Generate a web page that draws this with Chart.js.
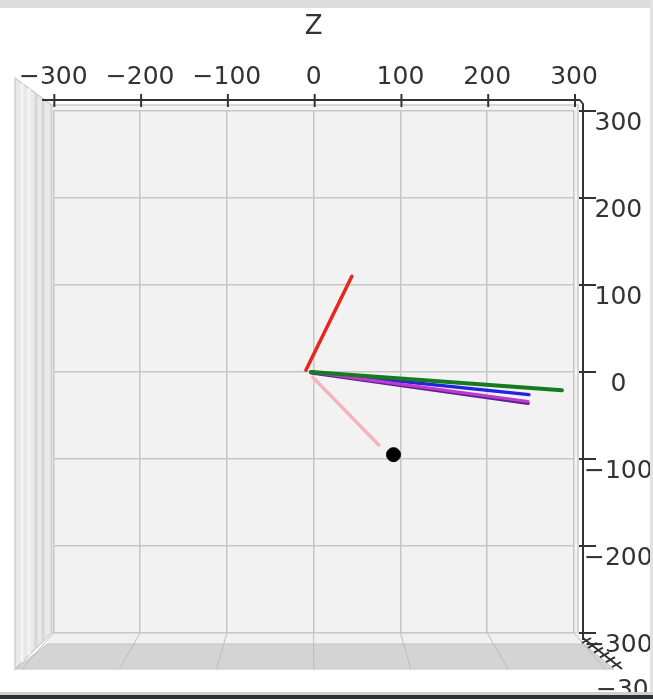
<!DOCTYPE html>
<html>
<head>
<meta charset="utf-8">
<script src="https://cdn.jsdelivr.net/npm/chart.js@4/dist/chart.umd.min.js"></script>
<style>
  body { margin: 0; background: #fff; }
  canvas { display: block; }
</style>
</head>
<body>
<canvas id="myChart" width="653" height="699"></canvas>
<script>
/*=============== DATA ===============*/

// tick values shared by both axes
const tickValues = [-300, -200, -100, 0, 100, 200, 300];

// line segments, [start, end]
const redX = [-9, 44];
const redY = [2, 110];
const pinkX = [-1, 75];
const pinkY = [-6, -84];
const greenX = [-3, 286];
const greenY = [0, -21];
const blueX = [-3, 248];
const blueY = [0, -26];
const magentaX = [-3, 247];
const magentaY = [0, -34];
const purpleX = [-3, 247];
const purpleY = [-1, -36];

// single point
const dotX = [92];
const dotY = [-95];

const toPoints = (xs, ys) => xs.map((x, i) => ({ x: x, y: ys[i] }));
const minus = (v) => (v < 0 ? "\u2212" + Math.abs(v) : String(v));

const lineSet = (xs, ys, color, width) => ({
  data: toPoints(xs, ys),
  showLine: true,
  borderColor: color,
  borderWidth: width,
  pointRadius: 0,
  borderCapStyle: "round",
});

/*=============== 3D BOX PLUGIN ===============*/
const boxPlugin = {
  id: "box3d",
  beforeDraw(chart) {
    const c = chart.ctx;
    const xs = chart.scales.x;
    const ys = chart.scales.y;
    const L = xs.getPixelForValue(-300);
    const R = xs.getPixelForValue(300);
    const T = ys.getPixelForValue(300);
    const B = ys.getPixelForValue(-300);
    c.save();
    // back pane
    c.fillStyle = "#f2f2f2";
    c.fillRect(L - 2, T - 6, R - L + 6, B - T + 6);
    c.strokeStyle = "#d6d6d6";
    c.lineWidth = 2;
    c.strokeRect(L - 2, T - 6, R - L + 6, B - T + 6);
    // left wall
    c.fillStyle = "#e9e9e9";
    c.beginPath();
    c.moveTo(15, 78);
    c.lineTo(L - 2, T - 6);
    c.lineTo(L - 2, B);
    c.lineTo(15, 669);
    c.closePath();
    c.fill();
    c.strokeStyle = "#cfcfcf";
    c.lineWidth = 1.5;
    c.stroke();
    [22, 29, 36, 43].forEach((x) => {
      const t = (x - 15) / (L - 2 - 15);
      c.beginPath();
      c.moveTo(x, 78 + t * (T - 6 - 78));
      c.lineTo(x, 669 + t * (B - 669));
      c.strokeStyle = t > 0.4 && t < 0.8 ? "#d6d6d6" : "#f4f4f4";
      c.lineWidth = 3;
      c.stroke();
    });
    // floor
    c.fillStyle = "#f0f0f0";
    c.beginPath();
    c.moveTo(L - 2, B);
    c.lineTo(R + 4, B);
    c.lineTo(R + 10, B + 11);
    c.lineTo(L - 6, B + 11);
    c.closePath();
    c.fill();
    c.fillStyle = "#d4d4d4";
    c.beginPath();
    c.moveTo(L - 6, B + 11);
    c.lineTo(R + 10, B + 11);
    c.lineTo(R + 40, 669);
    c.lineTo(15, 669);
    c.closePath();
    c.fill();
    c.strokeStyle = "#c4c4c4";
    c.lineWidth = 1;
    c.stroke();
    // floor grid lines
    tickValues.forEach((v) => {
      const px = xs.getPixelForValue(v);
      c.beginPath();
      c.moveTo(px, B);
      c.lineTo(px + (px - 313) * 0.12, 669);
      c.strokeStyle = "#bdbdbd";
      c.lineWidth = 1;
      c.stroke();
    });
    c.restore();
  },
  afterDraw(chart) {
    const c = chart.ctx;
    const xs = chart.scales.x;
    const ys = chart.scales.y;
    c.save();
    c.strokeStyle = "#333";
    c.lineWidth = 2;
    // top axis
    c.beginPath();
    c.moveTo(42, 100);
    c.lineTo(580, 100);
    c.stroke();
    tickValues.forEach((v) => {
      const px = xs.getPixelForValue(v);
      c.beginPath();
      c.moveTo(px + 1, 94);
      c.lineTo(px + 1, 107);
      c.stroke();
    });
    // right axis
    c.beginPath();
    c.moveTo(580, 100);
    c.lineTo(583, 104);
    c.lineTo(583, 640);
    c.stroke();
    tickValues.forEach((v) => {
      const py = ys.getPixelForValue(v);
      c.beginPath();
      c.moveTo(579, py);
      c.lineTo(596, py);
      c.stroke();
    });
    // depth axis
    c.beginPath();
    c.moveTo(583, 638);
    c.lineTo(622, 669);
    c.stroke();
    for (let i = 0; i < 6; i++) {
      const x = 585 + i * 6;
      const y = 640 + i * 4.8;
      c.beginPath();
      c.moveTo(x - 3, y + 3);
      c.lineTo(x + 6, y - 2);
      c.stroke();
    }
    c.fillStyle = "#333";
    c.font = "25px 'DejaVu Sans'";
    c.textBaseline = "top";
    c.fillText("\u2212300", 596, 678);
    // window edges
    c.fillStyle = "#dcdcdc";
    c.fillRect(0, 0, 653, 8);
    c.fillStyle = "#e2e2e2";
    c.fillRect(650, 0, 3, 699);
    c.fillStyle = "#cfcfcf";
    c.fillRect(0, 692, 653, 3);
    c.fillStyle = "#2b3036";
    c.fillRect(0, 695, 653, 4);
    c.restore();
  },
};

/*=============== CHART ===============*/
const ctx = document.getElementById("myChart").getContext("2d");
const myChart = new Chart(ctx, {
  type: "scatter",
  data: {
    datasets: [
      lineSet(redX, redY, "#e8261c", 3.5),
      lineSet(pinkX, pinkY, "#f5b3c0", 3.5),
      lineSet(greenX, greenY, "#167a1e", 4),
      lineSet(magentaX, magentaY, "#c03cc8", 3),
      lineSet(blueX, blueY, "#2323e0", 3.5),
      lineSet(purpleX, purpleY, "#5a2298", 3.5),
      {
        data: toPoints(dotX, dotY),
        pointRadius: 7,
        pointBackgroundColor: "#000",
        pointBorderColor: "#000",
      },
    ],
  },
  options: {
    responsive: false,
    animation: false,
    layout: { padding: { left: 52, right: 0, top: 0, bottom: 66 } },
    plugins: { legend: { display: false }, tooltip: { enabled: false } },
    scales: {
      x: {
        type: "linear",
        position: "top",
        min: -300,
        max: 300,
        afterBuildTicks: (s) => { s.ticks = tickValues.map((v) => ({ value: v })); },
        afterFit: (s) => { s.height = 111; },
        grid: { color: "#c6c6c6", lineWidth: 1.5, drawTicks: false },
        border: { display: false },
        ticks: {
          padding: 19,
          color: "#333",
          font: { family: "DejaVu Sans", size: 25 },
          maxRotation: 0,
          callback: (v) => minus(v),
        },
        title: {
          display: true,
          text: "Z",
          color: "#333",
          font: { family: "DejaVu Sans", size: 26 },
          padding: { top: 12, bottom: 0 },
        },
      },
      y: {
        type: "linear",
        position: "right",
        min: -300,
        max: 300,
        afterBuildTicks: (s) => { s.ticks = tickValues.map((v) => ({ value: v })); },
        afterFit: (s) => { s.width = 79; },
        grid: { color: "#c6c6c6", lineWidth: 1.5, drawTicks: false },
        border: { display: false },
        ticks: {
          padding: 10,
          crossAlign: "center",
          labelOffset: 12,
          color: "#333",
          font: { family: "DejaVu Sans", size: 25 },
          callback: (v) => minus(v),
        },
      },
    },
  },
  plugins: [boxPlugin],
});
</script>
</body>
</html>
